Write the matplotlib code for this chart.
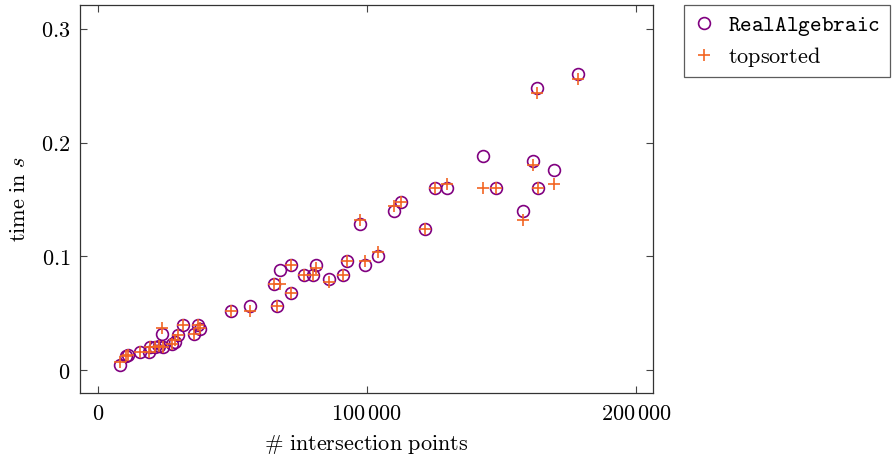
import matplotlib
matplotlib.use("Agg")
import matplotlib.pyplot as plt
from matplotlib.ticker import FixedLocator, FuncFormatter

plt.rcParams["mathtext.fontset"] = "cm"
plt.rcParams["font.family"] = "DejaVu Serif"

# number of intersection points
points = [8200, 10500, 11300, 15600, 19000, 19500, 21200, 22500, 23700, 24300,
          27400, 28600, 29900, 31700, 35600, 37300, 37900, 49500, 56500, 66400,
          65500, 67600, 71700, 71700, 76400, 80000, 81000, 86000, 91000, 92600,
          97400, 99300, 104200, 110000, 112500, 121600, 125300, 129900, 143200, 148000,
          158000, 161600, 163000, 163700, 169500, 178500]
# running time in seconds
real_algebraic = [0.004, 0.012, 0.013, 0.016, 0.016, 0.020, 0.020, 0.021, 0.032, 0.020,
                  0.023, 0.025, 0.031, 0.040, 0.032, 0.040, 0.036, 0.052, 0.056, 0.056,
                  0.076, 0.088, 0.068, 0.092, 0.084, 0.084, 0.092, 0.080, 0.084, 0.096,
                  0.128, 0.092, 0.100, 0.140, 0.148, 0.124, 0.160, 0.160, 0.188, 0.160,
                  0.140, 0.184, 0.248, 0.160, 0.176, 0.260]
topsorted = [0.007, 0.012, 0.013, 0.016, 0.016, 0.020, 0.020, 0.021, 0.037, 0.020,
             0.023, 0.026, 0.031, 0.040, 0.032, 0.040, 0.037, 0.052, 0.052, 0.056,
             0.076, 0.076, 0.068, 0.092, 0.084, 0.084, 0.090, 0.077, 0.084, 0.096,
             0.132, 0.096, 0.104, 0.144, 0.148, 0.124, 0.160, 0.164, 0.160, 0.160,
             0.132, 0.180, 0.244, 0.160, 0.164, 0.256]

x_ticks = [0, 100000, 200000]
y_ticks = [0, 0.1, 0.2, 0.3]

fig = plt.figure(figsize=(8.95, 4.59), dpi=100)
ax = fig.add_axes([80 / 895, 66 / 459, 573 / 895, 388 / 459])

ax.plot(points, real_algebraic, linestyle="none", marker="o", markersize=8.5,
        markerfacecolor="none", markeredgecolor="#800080", markeredgewidth=1.2,
        label=r"$\mathtt{RealAlgebraic}$")
ax.plot(points, topsorted, linestyle="none", marker="+", markersize=8.5,
        markeredgecolor="#f26522", markeredgewidth=1.2,
        label=r"$\mathrm{topsorted}$")

ax.set_xlim(-6690, 206300)
ax.set_ylim(-0.0202, 0.321)
ax.xaxis.set_major_locator(FixedLocator(x_ticks))
ax.yaxis.set_major_locator(FixedLocator(y_ticks))


def fmt_x(v, pos):
    n = int(round(v))
    if n == 0:
        return r"$0$"
    s = f"{n:,}".replace(",", r"\,")
    return "$" + s + "$"


def fmt_y(v, pos):
    if abs(v) < 1e-12:
        return r"$0$"
    return f"${v:.1f}$"


ax.xaxis.set_major_formatter(FuncFormatter(fmt_x))
ax.yaxis.set_major_formatter(FuncFormatter(fmt_y))
ax.tick_params(direction="in", length=5, width=0.8, labelsize=16,
               top=True, right=True, color="#444444", pad=7)
for sp in ax.spines.values():
    sp.set_linewidth(0.9)
    sp.set_color("#333333")

ax.set_xlabel(r"$\#\ \mathrm{intersection\ points}$", fontsize=16, labelpad=6)
ax.set_ylabel(r"$\mathrm{time\ in}\ s$", fontsize=16, labelpad=8)

leg = fig.legend(loc="upper left", bbox_to_anchor=(684 / 895, 1 - 5 / 459),
                 fontsize=16, frameon=True, fancybox=False, edgecolor="#333333",
                 handlelength=1.0, handletextpad=0.6, borderpad=0.4,
                 labelspacing=0.3, borderaxespad=0)
leg.get_frame().set_linewidth(0.9)

fig.savefig("out.png", dpi=100)
